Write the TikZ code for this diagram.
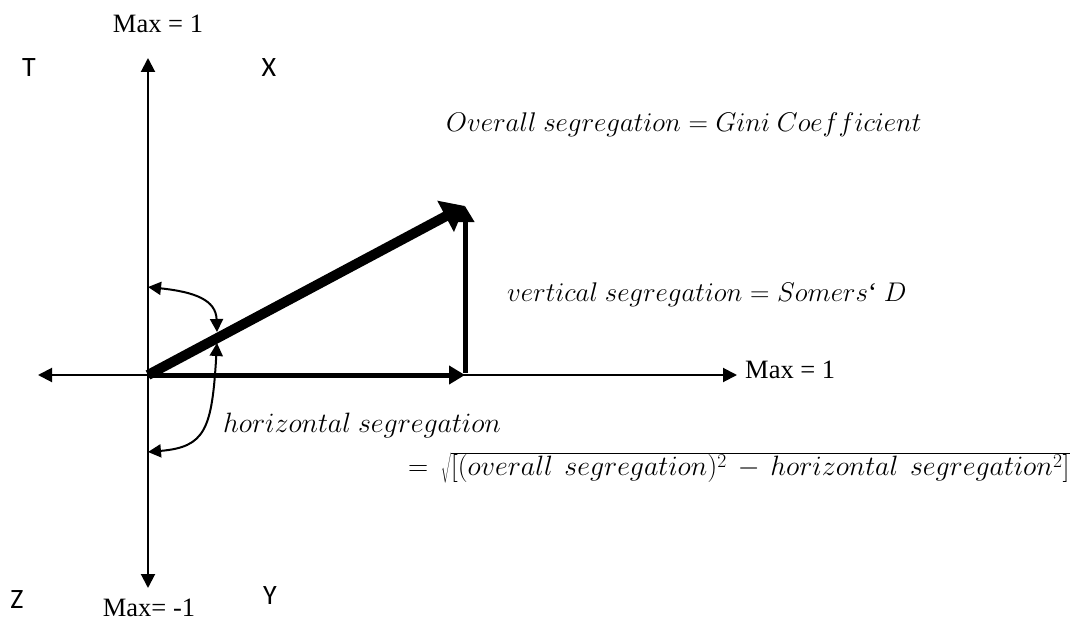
\RequirePackage{fix-cm}
\documentclass[tikz,border=0pt]{standalone}
\usepackage{fontspec}
\setmainfont{Liberation Serif}
\newfontfamily\calib{Carlito}
\usetikzlibrary{arrows.meta}
\begin{document}
\begin{tikzpicture}[x=1pt,y=-1pt,
  axis/.style={line width=2pt,{Triangle[length=14pt,width=14pt]}-{Triangle[length=14pt,width=14pt]}},
  bold/.style={line width=5pt,-{Triangle[length=16pt,width=18pt]}},
  thick vec/.style={line width=10pt,-{Triangle[length=22pt,width=34pt]}},
  curv/.style={line width=2pt,{Triangle[length=13pt,width=13pt]}-{Triangle[length=13pt,width=13pt]}},
  lab/.style={font=\fontsize{26.5}{30}\selectfont, inner sep=0pt},
  corner/.style={font=\calib\fontsize{28}{32}\selectfont, inner sep=0pt},
  mlab/.style={font=\fontsize{27}{30}\selectfont, inner sep=0pt, anchor=west},
  mlabw/.style={font=\fontsize{28}{32}\selectfont, inner sep=0pt, anchor=west}]
\useasboundingbox (0,0) rectangle (1084,623);
\coordinate (O) at (148,375);
\coordinate (top) at (148,58);
\coordinate (bot) at (148,588);
\coordinate (left) at (38,375);
\coordinate (right) at (737,375);
\coordinate (H) at (465,375);
\coordinate (V) at (465,206);
\coordinate (P1) at (148,287);
\coordinate (P2) at (217,332);
\coordinate (P3) at (217,343);
\coordinate (P4) at (148,452);
% axes
\draw[axis] (left) -- (right);
\draw[axis] (top) -- (bot);
% vectors
\draw[bold] (O) -- (H);
\draw[bold] ([yshift=2pt]H) -- (V);
\draw[thick vec] (O) -- (V);
% curved arrows
\draw[curv] (P1) .. controls (195,292) and (216,300) .. (P2);
\draw[curv] (P3) .. controls (212,430) and (205,447) .. (P4);
% labels
\node[lab, anchor=base] (maxtop) at (158,33) {Max = 1};
\node[lab, anchor=base] (maxbot) at (149,616) {Max= -1};
\node[lab, anchor=west] (maxright) at (745,370) {Max = 1};
\node[corner] (T) at (29,68) {T};
\node[corner] (X) at (269,68) {X};
\node[corner] (Z) at (17,600) {Z};
\node[corner] (Y) at (270,596) {Y};
\node[mlab] (gini) at (446,125) {$Overall\ segregation = Gini\ Coefficient$};
\node[mlab] (somers) at (507,295) {$vertical\ segregation = Somers`\ D$};
\node[mlabw] (horiz) at (223,425) {$horizontal\ segregation$};
\node[mlabw] (formula) at (408,468) {$=\,\sqrt{\vphantom{\big[}[(overall\ \,segregation)^2\, - \,horizontal\ \,segregation^2]}$};
\end{tikzpicture}
\end{document}
